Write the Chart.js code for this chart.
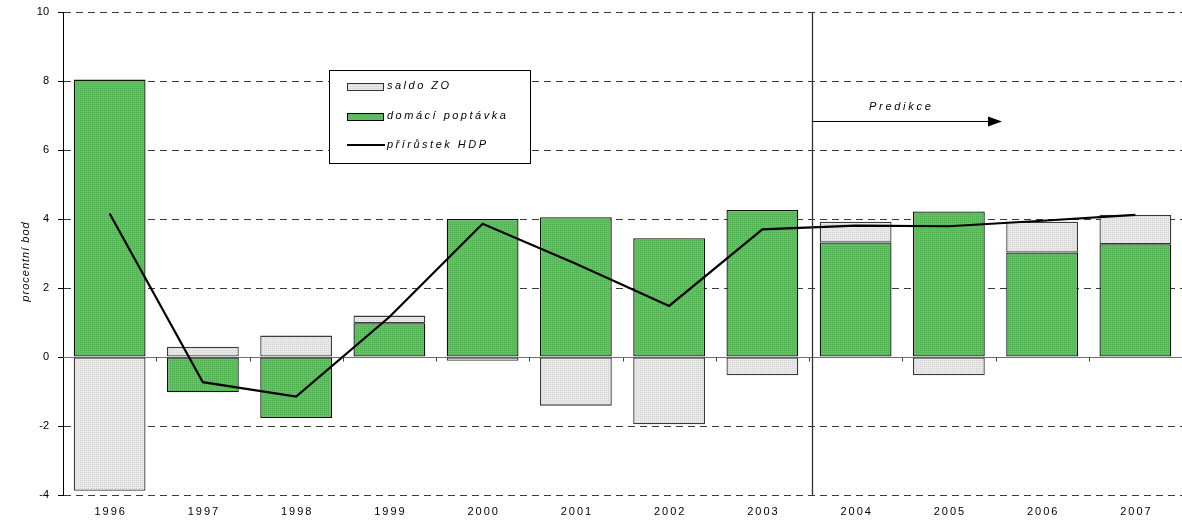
<!DOCTYPE html>
<html><head><meta charset="utf-8">
<script src="https://cdn.jsdelivr.net/npm/chart.js@4/dist/chart.umd.min.js"></script>
<style>html,body{margin:0;padding:0;background:#fff}#wrap{width:1182px;height:522px;position:relative}</style>
</head><body><div id="wrap"><canvas id="c" width="1182" height="522"></canvas></div>
<script>
const years = ['1996','1997','1998','1999','2000','2001','2002','2003','2004','2005','2006','2007'];
const saldoZO = [-3.88, 0.30, 0.62, 0.22, -0.11, -1.41, -1.95, -0.53, 0.60, -0.53, 0.89, 0.85];
const domaciPoptavka = [8.04, -1.02, -1.77, 0.98, 4.00, 4.05, 3.44, 4.26, 3.32, 4.22, 3.03, 3.27];
const prirustekHDP = [4.16, -0.73, -1.15, 1.16, 3.86, 2.70, 1.48, 3.70, 3.81, 3.79, 3.95, 4.12];
const yTicks = [-4, -2, 0, 2, 4, 6, 8, 10];
const seriesNames = ['saldo ZO', 'domácí poptávka', 'přírůstek HDP'];
const yTitle = 'procentní bod';
const predictionLabel = 'Predikce';
const predictionFrom = 7.53;   // category position where the forecast starts
const predictionArrowTo = 9.57;
const predictionArrowY = 6.85;
const predictionTextY = 7.25;

const FONT = "'Liberation Sans', Arial, sans-serif";

function makePattern(base, dot) {
  const c = document.createElement('canvas');
  c.width = 4; c.height = 4;
  const g = c.getContext('2d');
  g.fillStyle = base; g.fillRect(0, 0, 4, 4);
  g.fillStyle = dot;
  g.fillRect(0, 0, 1, 1); g.fillRect(2, 2, 1, 1);
  g.fillRect(2, 0, 1, 1); g.fillRect(0, 2, 1, 1);
  return document.getElementById('c').getContext('2d').createPattern(c, 'repeat');
}
const greenPat = makePattern('#60c260', '#4fab4f');
const grayPat = makePattern('#e9e9e9', '#d2d2d2');

const deco = {
  id: 'deco',
  beforeDatasetsDraw(chart) {
    const { ctx, chartArea: a, scales: { x, y } } = chart;
    const y0 = Math.round(y.getPixelForValue(0)) + 0.5;
    ctx.save();
    ctx.strokeStyle = '#6e6e6e'; ctx.lineWidth = 1;
    ctx.beginPath(); ctx.moveTo(a.left, y0); ctx.lineTo(a.right, y0); ctx.stroke();
    const w = (x.right - x.left) / years.length;
    ctx.strokeStyle = '#444';
    for (let i = 1; i < years.length; i++) {
      const bx = Math.round(x.left + i * w) + 0.5;
      ctx.beginPath(); ctx.moveTo(bx, y0); ctx.lineTo(bx, y0 + 4); ctx.stroke();
    }
    ctx.restore();
  },
  afterDatasetsDraw(chart) {
    const { ctx, chartArea: a, scales: { x, y } } = chart;
    ctx.save();
    // forecast divider
    const vx = Math.round(x.getPixelForValue(predictionFrom)) + 0.5;
    ctx.strokeStyle = '#333'; ctx.lineWidth = 1.3;
    ctx.beginPath(); ctx.moveTo(vx, a.top); ctx.lineTo(vx, a.bottom); ctx.stroke();
    // arrow
    const ay = Math.round(y.getPixelForValue(predictionArrowY)) + 0.5;
    const ax2 = x.getPixelForValue(predictionArrowTo);
    ctx.strokeStyle = '#000'; ctx.lineWidth = 1;
    ctx.beginPath(); ctx.moveTo(vx, ay); ctx.lineTo(ax2 - 12, ay); ctx.stroke();
    ctx.fillStyle = '#000';
    ctx.beginPath(); ctx.moveTo(ax2, ay); ctx.lineTo(ax2 - 14, ay - 5); ctx.lineTo(ax2 - 14, ay + 5); ctx.closePath(); ctx.fill();
    ctx.font = 'italic 11px ' + FONT;
    ctx.letterSpacing = '2.7px';
    ctx.textAlign = 'center'; ctx.textBaseline = 'middle';
    ctx.fillText(predictionLabel, (vx + ax2) / 2 - 6, y.getPixelForValue(predictionTextY));

    // legend box
    const L = { x: 329, y: 70, w: 201, h: 93 };
    ctx.letterSpacing = '0px';
    ctx.fillStyle = '#fff';
    ctx.fillRect(L.x, L.y, L.w, L.h);
    ctx.strokeStyle = '#000'; ctx.lineWidth = 1;
    ctx.strokeRect(L.x + 0.5, L.y + 0.5, L.w, L.h);
    const rows = [
      { name: seriesNames[0], fill: grayPat, stroke: '#333', cy: 86 },
      { name: seriesNames[1], fill: greenPat, stroke: '#000', cy: 116 },
      { name: seriesNames[2], line: true, cy: 145 }
    ];
    ctx.font = 'italic 11px ' + FONT;
    ctx.letterSpacing = '2.5px';
    ctx.textAlign = 'left'; ctx.textBaseline = 'middle';
    rows.forEach(r => {
      if (r.line) {
        ctx.strokeStyle = '#000'; ctx.lineWidth = 2;
        ctx.beginPath(); ctx.moveTo(347, r.cy); ctx.lineTo(385, r.cy); ctx.stroke();
      } else {
        ctx.fillStyle = r.fill; ctx.fillRect(347, r.cy - 3, 36, 7);
        ctx.strokeStyle = r.stroke; ctx.lineWidth = 1;
        ctx.strokeRect(347.5, r.cy - 3 + 0.5, 36, 7);
      }
      ctx.fillStyle = '#000';
      ctx.fillText(r.name, 387, r.cy);
    });

    // x category labels (letter-spaced)
    ctx.font = '11px ' + FONT;
    ctx.letterSpacing = '2px';
    ctx.textAlign = 'center'; ctx.textBaseline = 'middle';
    years.forEach((lab, i) => ctx.fillText(lab, x.getPixelForValue(i) + 1, 512));

    // y title
    ctx.letterSpacing = '1px';
    ctx.font = 'italic 11px ' + FONT;
    ctx.translate(26, (a.top + a.bottom) / 2 + 8);
    ctx.rotate(-Math.PI / 2);
    ctx.fillText(yTitle, 0, 0);
    ctx.restore();
  }
};

new Chart(document.getElementById('c'), {
  type: 'bar',
  data: {
    labels: years,
    datasets: [
      { type: 'line', label: seriesNames[2], data: prirustekHDP, borderColor: '#000', borderWidth: 2.2,
        pointRadius: 0, tension: 0, fill: false, stack: 'hdp', order: 0 },
      { label: seriesNames[1], data: domaciPoptavka, backgroundColor: greenPat, borderColor: '#111',
        borderWidth: 1.3, borderSkipped: false, stack: 'bars', order: 1 },
      { label: seriesNames[0], data: saldoZO, backgroundColor: grayPat, borderColor: '#3a3a3a',
        borderWidth: 1.3, borderSkipped: false, stack: 'bars', order: 1 }
    ]
  },
  options: {
    responsive: false,
    animation: false,
    events: [],
    layout: { padding: { top: 12, right: 0, left: 0, bottom: 0 } },
    plugins: { legend: { display: false }, tooltip: { enabled: false } },
    datasets: { bar: { categoryPercentage: 1, barPercentage: 0.77 } },
    scales: {
      x: {
        stacked: true,
        grid: { display: false },
        border: { display: false },
        ticks: { display: false },
        afterFit(s) { s.height = 27; s.paddingLeft = 0; s.paddingRight = 0; }
      },
      y: {
        stacked: true,
        min: -4, max: 10,
        afterBuildTicks(s) { s.ticks = yTicks.map(v => ({ value: v })); },
        ticks: { font: { family: FONT, size: 11 }, color: '#000', padding: 9 },
        grid: {
          color: c => (c.tick && c.tick.value === 0) ? 'rgba(0,0,0,0)' : '#3a3a3a',
          tickColor: '#000', tickLength: 5, lineWidth: 1
        },
        border: { display: true, color: '#000', width: 1, dash: [7, 5] },
        afterFit(s) { s.width = 63; s.paddingTop = 0; s.paddingBottom = 0; }
      }
    }
  },
  plugins: [deco]
});
</script>
</body></html>
